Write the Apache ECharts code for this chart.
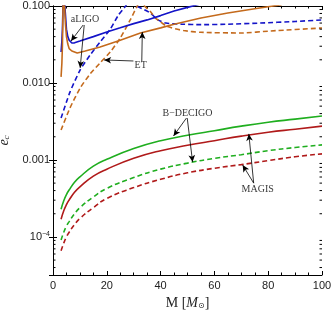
<!DOCTYPE html>
<html><head><meta charset="utf-8">
<script src="https://cdn.jsdelivr.net/npm/echarts@6/dist/echarts.min.js"></script>
<style>html,body{margin:0;padding:0;background:#fff}#c{width:332px;height:314px}</style>
</head><body><div id="c"></div>
<script>
// ---- data ----
const massLow = [3,4,5,6,8,10,15,20,30,40,50,60,70,80,90,100];
const decigoSolid  = [2.29e-4,2.95e-4,3.55e-4,4.07e-4,5.13e-4,6.03e-4,8.3e-4,1.02e-3,1.41e-3,1.78e-3,2.09e-3,2.40e-3,2.75e-3,3.09e-3,3.39e-3,3.72e-3];
const magisSolid   = [1.70e-4,2.19e-4,2.63e-4,3.02e-4,3.80e-4,4.47e-4,6.17e-4,7.59e-4,1.05e-3,1.32e-3,1.55e-3,1.78e-3,2.04e-3,2.29e-3,2.51e-3,2.75e-3];
const decigoDashed = [9.1e-5,1.15e-4,1.38e-4,1.58e-4,2.0e-4,2.4e-4,3.3e-4,4.27e-4,5.9e-4,7.6e-4,9.1e-4,1.05e-3,1.17e-3,1.32e-3,1.45e-3,1.57e-3];
const magisDashed  = [6.6e-5,8.3e-5,1.0e-4,1.15e-4,1.45e-4,1.74e-4,2.4e-4,3.16e-4,4.37e-4,5.6e-4,6.8e-4,7.8e-4,8.7e-4,9.8e-4,1.1e-3,1.2e-3];

const aligoSolidM = [3,3.3,3.5,3.65,3.8,4.3,4.6,5,5.5,6,7,8,10,15,20,25,30,35,40,45,50,55];
const aligoSolidE = [0.0253,0.035,0.05,0.08,0.2,0.2,0.08,0.05,0.04,0.036,0.033,0.0332,0.035,0.04,0.046,0.052,0.059,0.066,0.075,0.086,0.096,0.107];
const etSolidM = [3,3.3,3.5,3.65,3.8,4.3,4.6,5,5.5,6,7,9,12,17.5,25,32.5,40,45,55,65,75,85];
const etSolidE = [0.012,0.018,0.03,0.06,0.2,0.2,0.06,0.04,0.032,0.028,0.026,0.0245,0.026,0.0294,0.036,0.0446,0.052,0.058,0.07,0.081,0.092,0.104];
const aligoDashedM = [3,6.3,10.1,13.8,17.5,21.3,24.3,27,29,31,33,36.2,39,42,48,55,65,77,90,100];
const aligoDashedE = [0.0035,0.0076,0.0148,0.0231,0.034,0.050,0.076,0.1,0.13,0.1,0.093,0.081,0.066,0.060,0.058,0.0572,0.058,0.060,0.063,0.0658];
const etDashedM = [3,6.3,10.1,13.8,17.5,21.3,25,28.7,31.3,32.6,34,36.2,38,40,42.5,48.5,55,70,81,100];
const etDashedE = [0.00245,0.00473,0.0086,0.0131,0.0182,0.0253,0.0384,0.0658,0.1,0.12,0.1,0.085,0.07,0.062,0.054,0.048,0.0455,0.0446,0.0474,0.0518];

const annotationTexts = ['aLIGO','ET','B\u2212DECIGO','MAGIS'];
const annotationAt = [[11.9,0.0678],[32.6,0.0171],[50,0.00407],[76.1,4.2e-4]];
const arrowFrom = [[11.2,0.0566],[11.6,0.0566],[29.9,0.0193],[33.0,0.0190],[49.6,0.0035],[49.9,0.0035],[74.6,5.0e-4],[74.6,5.0e-4]];
const arrowTo   = [[6.7,0.0351],[10.1,0.0157],[19.0,0.0199],[33.2,0.0459],[44.8,0.00205],[51.9,9.4e-4],[72.8,2.18e-3],[70.5,8.6e-4]];

const yTickText = {'-1':'0.100','-2':'0.010','-3':'0.001','-4':'{b|10}{s|\u22124}'};

// ---- chart ----
const Y_MIN = 3.2e-5, Y_MAX = 0.1;
const minorVals = [];
for (let k = -5; k <= -2; k++) for (let m = 2; m <= 9; m++) {
  const v = m * Math.pow(10, k);
  if (v > Y_MIN && v < Y_MAX) minorVals.push([0, v]);
}
const BLUE = '#1414c8', ORANGE = '#c46a1c', GREEN = '#1fae1f', RED = '#b01a1a';

function line(xs, ys, color, dashed, smooth) {
  return {
    type: 'line', data: xs.map((x, i) => [x, ys[i]]), showSymbol: false, symbol: 'none',
    smooth: smooth, clip: true, animation: false,
    lineStyle: { color: color, width: 1.6, type: dashed ? [5, 3] : 'solid' }
  };
}

const frameAxis = { lineStyle: { color: '#000', width: 1 } };
const chart = echarts.init(document.getElementById('c'));
chart.setOption({
  animation: false,
  grid: { left: 53, right: 10, top: 6, bottom: 39, containLabel: false, outerBoundsMode: 'none' },
  xAxis: [{
    type: 'value', min: 0, max: 100, interval: 20, position: 'bottom',
    axisLine: frameAxis,
    axisTick: { inside: true, length: 4, lineStyle: { color: '#000' } },
    minorTick: { show: true, splitNumber: 4, length: 2.5, lineStyle: { color: '#000' } },
    splitLine: { show: false },
    axisLabel: { color: '#222', fontFamily: 'Liberation Sans', fontSize: 11, margin: 5 },
    name: 'M [{i|M}{s|\u2299}]', nameLocation: 'middle', nameGap: 19,
    nameTextStyle: { color: '#222', fontFamily: 'Liberation Serif', fontSize: 14,
      rich: { i: { fontFamily: 'Liberation Serif', fontStyle: 'italic', fontSize: 14, color: '#222' },
              s: { fontFamily: 'DejaVu Sans', fontSize: 8, color: '#222', verticalAlign: 'bottom', padding: [6, 0, 0, 0] } } }
  }, {
    type: 'value', min: 0, max: 100, interval: 20, position: 'top',
    axisLine: frameAxis,
    axisTick: { inside: true, length: 4, lineStyle: { color: '#000' } },
    minorTick: { show: true, splitNumber: 4, length: 2.5, lineStyle: { color: '#000' } },
    splitLine: { show: false }, axisLabel: { show: false }
  }],
  yAxis: [{
    type: 'log', logBase: 10, min: Y_MIN, max: Y_MAX, position: 'left',
    axisLine: frameAxis,
    axisTick: { inside: true, length: 4, lineStyle: { color: '#000' } },
    splitLine: { show: false },
    axisLabel: {
      color: '#222', fontFamily: 'Liberation Sans', fontSize: 11, margin: 3,
      formatter: v => { const e = Math.log10(v); const r = Math.round(e); return Math.abs(e - r) < 1e-6 && yTickText[r] ? yTickText[r] : ''; },
      rich: { b: { fontFamily: 'Liberation Sans', fontSize: 11, color: '#222' },
              s: { fontFamily: 'Liberation Sans', fontSize: 7, color: '#222', verticalAlign: 'top', padding: [0, 0, 6, 0] } }
    },
    name: '{i|e}{s|c}', nameLocation: 'middle', nameGap: 35,
    nameTextStyle: { rich: { i: { fontFamily: 'Liberation Serif', fontStyle: 'italic', fontSize: 14, color: '#222' },
                             s: { fontFamily: 'Liberation Serif', fontStyle: 'italic', fontSize: 9, color: '#222', padding: [6, 0, 0, 0] } } }
  }, {
    type: 'log', logBase: 10, min: Y_MIN, max: Y_MAX, position: 'right',
    axisLine: frameAxis,
    axisTick: { inside: true, length: 4, lineStyle: { color: '#000' } },
    splitLine: { show: false }, axisLabel: { show: false }
  }],
  series: [
    line(massLow, decigoSolid, GREEN, false, true),
    line(massLow, magisSolid, RED, false, true),
    line(massLow, decigoDashed, GREEN, true, true),
    line(massLow, magisDashed, RED, true, true),
    line(aligoDashedM, aligoDashedE, BLUE, true, 0.2),
    line(etDashedM, etDashedE, ORANGE, true, 0.2),
    line(aligoSolidM, aligoSolidE, BLUE, false, false),
    line(etSolidM, etSolidE, ORANGE, false, false),
    {
      type: 'custom', data: minorVals, clip: false, silent: true, z: 5,
      renderItem: (params, api) => {
        const v = api.value(1);
        const p1 = api.coord([0, v]), p2 = api.coord([100, v]);
        const st = { stroke: '#000', lineWidth: 1 };
        return { type: 'group', children: [
          { type: 'line', shape: { x1: p1[0], y1: p1[1], x2: p1[0] + 2.5, y2: p1[1] }, style: st },
          { type: 'line', shape: { x1: p2[0], y1: p2[1], x2: p2[0] - 2.5, y2: p2[1] }, style: st }
        ] };
      }
    },
    {
      type: 'scatter', symbolSize: 0, silent: true, z: 10,
      data: annotationAt.map((p, i) => ({ value: p, label: { formatter: annotationTexts[i] } })),
      label: { show: true, position: 'inside', fontFamily: 'Liberation Serif', fontSize: 10, color: '#000' },
      markLine: {
        silent: true, symbol: ['none', 'arrow'], symbolSize: [5, 7], animation: false,
        lineStyle: { color: '#000', width: 0.8, type: 'solid' }, label: { show: false },
        data: arrowFrom.map((f, i) => [{ coord: f }, { coord: arrowTo[i] }])
      }
    }
  ]
});
</script></body></html>
